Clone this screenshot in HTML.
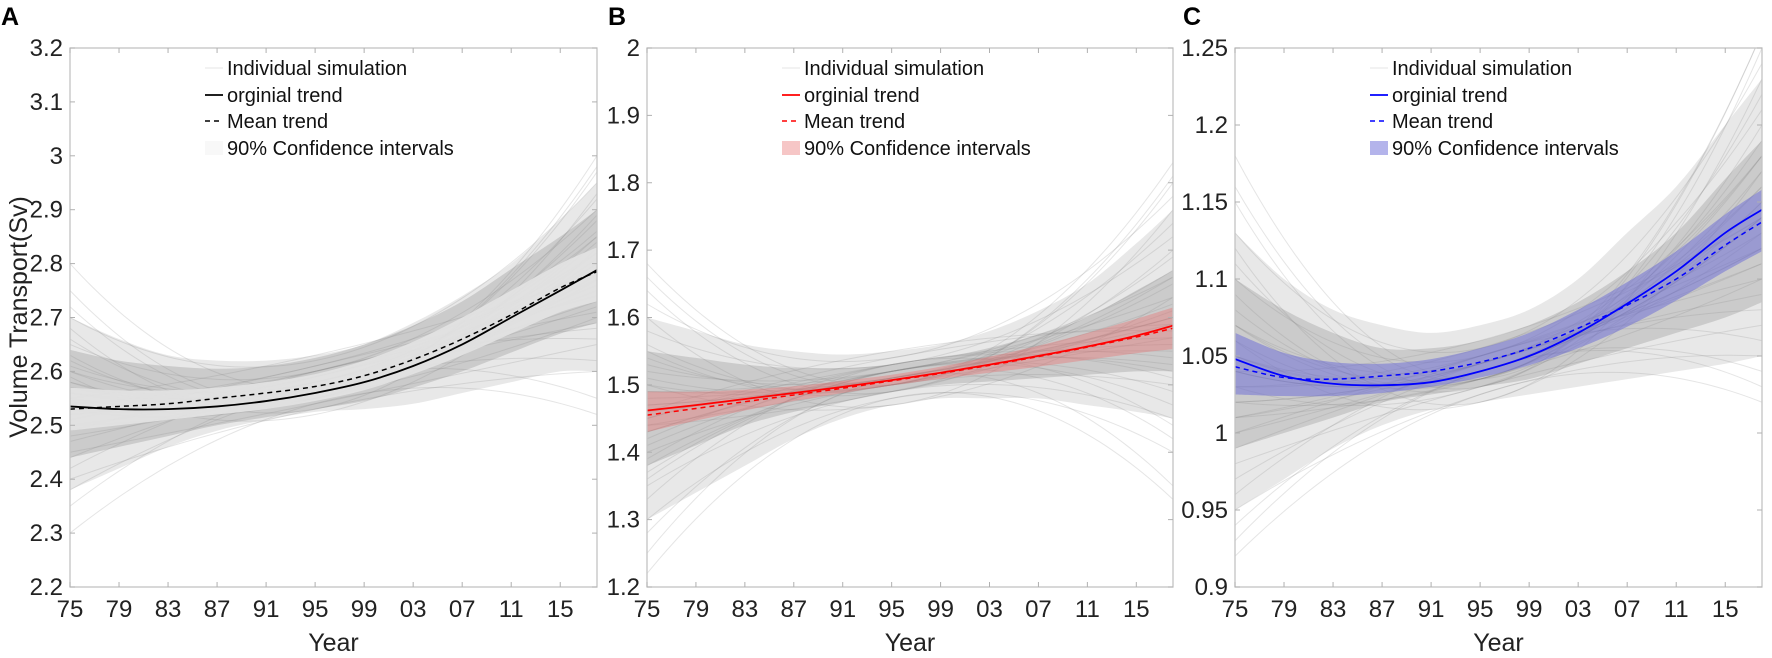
<!DOCTYPE html>
<html><head><meta charset="utf-8">
<style>
body{margin:0;background:#fff;}
svg{display:block;font-family:"Liberation Sans",Arial,sans-serif;}
</style></head>
<body>
<svg id="fig" width="1772" height="658" viewBox="0 0 1772 658" xmlns="http://www.w3.org/2000/svg"></svg>
<script>
// ---------- data ----------
const years=[1975,1979,1983,1987,1991,1995,1999,2003,2007,2011,2015,2018];
const xTickLabels=["75","79","83","87","91","95","99","03","07","11","15"];
const simYears=[1975,1995,2018];

const aTicks=[2.2,2.3,2.4,2.5,2.6,2.7,2.8,2.9,3,3.1,3.2];
const aOrig=[2.535,2.53,2.53,2.535,2.545,2.56,2.58,2.61,2.65,2.7,2.75,2.788];
const aMean=[2.53,2.535,2.54,2.55,2.56,2.572,2.592,2.622,2.66,2.705,2.755,2.785];
const aLow=[2.49,2.5,2.51,2.52,2.53,2.545,2.565,2.595,2.63,2.67,2.71,2.73];
const aHigh=[2.57,2.565,2.565,2.57,2.58,2.595,2.62,2.655,2.7,2.75,2.8,2.83];
const aOuterLow=[2.38,2.42,2.46,2.49,2.51,2.525,2.53,2.54,2.56,2.58,2.6,2.6];
const aOuterHigh=[2.7,2.66,2.63,2.62,2.62,2.63,2.65,2.69,2.74,2.8,2.88,2.95];
const aInnerLow=[2.44,2.46,2.48,2.5,2.515,2.53,2.545,2.57,2.6,2.635,2.67,2.69];
const aInnerHigh=[2.64,2.62,2.61,2.605,2.61,2.625,2.65,2.685,2.73,2.79,2.85,2.9];
const aSimStart=[2.55,2.6,2.5,2.65,2.45,2.58,2.52,2.7,2.4,2.56,2.62,2.48,2.54,2.75,2.35,2.59,2.51,2.57,2.66,2.44,2.53,2.61,2.49,2.8,2.3,2.55,2.58,2.47,2.63,2.52,2.56,2.68,2.42,2.6,2.5,2.54,2.72,2.38,2.57,2.53];
const aSimMid=[2.56,2.58,2.55,2.6,2.54,2.57,2.59,2.62,2.53,2.58,2.56,2.57,2.6,2.55,2.58,2.52,2.61,2.57,2.56,2.59,2.55,2.58,2.6,2.57,2.54,2.63,2.56,2.58,2.55,2.59,2.57,2.53,2.6,2.56,2.58,2.61,2.55,2.57,2.59,2.56];
const aSimEnd=[2.78,2.85,2.7,2.9,2.65,2.82,2.75,2.95,2.6,2.8,2.88,2.72,2.77,3.0,2.55,2.83,2.74,2.79,2.92,2.68,2.81,2.86,2.71,2.97,2.52,2.78,2.84,2.69,2.89,2.76,2.8,2.93,2.66,2.85,2.73,2.79,2.98,2.62,2.82,2.77];

const bTicks=[1.2,1.3,1.4,1.5,1.6,1.7,1.8,1.9,2];
const bOrig=[1.462,1.47,1.479,1.488,1.497,1.507,1.518,1.53,1.543,1.557,1.573,1.588];
const bMean=[1.455,1.465,1.475,1.485,1.495,1.506,1.517,1.529,1.542,1.556,1.571,1.584];
const bLow=[1.43,1.447,1.462,1.476,1.488,1.499,1.509,1.518,1.527,1.537,1.547,1.553];
const bHigh=[1.49,1.49,1.493,1.498,1.506,1.515,1.527,1.542,1.558,1.577,1.598,1.615];
const bOuterLow=[1.3,1.34,1.38,1.42,1.45,1.47,1.48,1.48,1.48,1.47,1.46,1.45];
const bOuterHigh=[1.6,1.58,1.56,1.55,1.545,1.55,1.56,1.58,1.61,1.65,1.71,1.76];
const bInnerLow=[1.38,1.41,1.44,1.46,1.475,1.49,1.5,1.505,1.51,1.515,1.52,1.52];
const bInnerHigh=[1.55,1.54,1.53,1.525,1.525,1.53,1.54,1.555,1.575,1.6,1.64,1.67];
const bSimStart=[1.46,1.52,1.4,1.58,1.35,1.49,1.43,1.62,1.3,1.47,1.54,1.38,1.45,1.66,1.25,1.5,1.42,1.48,1.56,1.36,1.44,1.53,1.39,1.68,1.22,1.46,1.5,1.37,1.55,1.43,1.47,1.6,1.33,1.51,1.41,1.45,1.64,1.28,1.49,1.44];
const bSimMid=[1.51,1.52,1.5,1.53,1.49,1.51,1.52,1.54,1.48,1.51,1.5,1.52,1.53,1.5,1.51,1.47,1.53,1.51,1.5,1.52,1.49,1.51,1.53,1.5,1.48,1.55,1.5,1.52,1.49,1.52,1.51,1.47,1.53,1.5,1.52,1.54,1.49,1.51,1.52,1.5];
const bSimEnd=[1.59,1.66,1.5,1.72,1.45,1.62,1.55,1.78,1.4,1.6,1.69,1.52,1.57,1.83,1.35,1.63,1.54,1.6,1.74,1.47,1.61,1.67,1.51,1.8,1.33,1.58,1.65,1.49,1.7,1.56,1.6,1.76,1.44,1.66,1.53,1.59,1.81,1.42,1.63,1.57];

const cTicks=[0.9,0.95,1,1.05,1.1,1.15,1.2,1.25];
const cOrig=[1.048,1.037,1.032,1.031,1.033,1.04,1.05,1.065,1.084,1.105,1.13,1.145];
const cMean=[1.043,1.036,1.035,1.037,1.04,1.046,1.055,1.068,1.083,1.1,1.122,1.137];
const cLow=[1.025,1.024,1.024,1.026,1.03,1.036,1.044,1.055,1.069,1.086,1.105,1.118];
const cHigh=[1.065,1.052,1.046,1.045,1.048,1.055,1.065,1.08,1.098,1.118,1.142,1.158];
const cOuterLow=[0.95,0.97,0.99,1.005,1.015,1.02,1.025,1.03,1.035,1.04,1.045,1.05];
const cOuterHigh=[1.13,1.1,1.08,1.07,1.065,1.07,1.08,1.1,1.13,1.16,1.2,1.23];
const cInnerLow=[0.99,1.0,1.01,1.02,1.025,1.03,1.035,1.045,1.055,1.065,1.075,1.085];
const cInnerHigh=[1.1,1.08,1.065,1.055,1.055,1.06,1.07,1.085,1.105,1.13,1.165,1.19];
const cSimStart=[1.04,1.07,1.01,1.1,0.98,1.05,1.02,1.13,0.95,1.04,1.08,1.0,1.03,1.16,0.93,1.06,1.01,1.05,1.11,0.97,1.03,1.07,1.0,1.18,0.92,1.04,1.06,0.99,1.09,1.02,1.04,1.12,0.96,1.07,1.01,1.03,1.15,0.94,1.05,1.02];
const cSimMid=[1.04,1.045,1.035,1.05,1.03,1.04,1.045,1.055,1.025,1.04,1.035,1.045,1.05,1.035,1.04,1.02,1.05,1.04,1.035,1.045,1.03,1.04,1.05,1.035,1.025,1.06,1.035,1.045,1.03,1.045,1.04,1.02,1.05,1.035,1.045,1.055,1.03,1.04,1.045,1.035];
const cSimEnd=[1.14,1.18,1.1,1.21,1.07,1.16,1.12,1.24,1.05,1.14,1.19,1.11,1.13,1.26,1.03,1.17,1.12,1.15,1.22,1.08,1.15,1.18,1.1,1.25,1.02,1.14,1.17,1.09,1.2,1.12,1.14,1.23,1.06,1.18,1.11,1.14,1.26,1.04,1.16,1.13];

// ---------- drawing ----------
const NS="http://www.w3.org/2000/svg";
const svg=document.getElementById('fig');
function mk(tag,attrs,parent){const e=document.createElementNS(NS,tag);for(const k in attrs)e.setAttribute(k,attrs[k]);(parent||svg).appendChild(e);return e;}
function smoothPath(pts){
  let d="M"+pts[0][0].toFixed(2)+","+pts[0][1].toFixed(2);
  for(let i=0;i<pts.length-1;i++){
    const p0=pts[i-1]||pts[i],p1=pts[i],p2=pts[i+1],p3=pts[i+2]||p2;
    const c1=[p1[0]+(p2[0]-p0[0])/6,p1[1]+(p2[1]-p0[1])/6];
    const c2=[p2[0]-(p3[0]-p1[0])/6,p2[1]-(p3[1]-p1[1])/6];
    d+=" C"+c1[0].toFixed(2)+","+c1[1].toFixed(2)+" "+c2[0].toFixed(2)+","+c2[1].toFixed(2)+" "+p2[0].toFixed(2)+","+p2[1].toFixed(2);
  }
  return d;
}
function bandPath(X,Y,low,high){
  const up=years.map((yr,i)=>[X(yr),Y(high[i])]);
  const lo=years.map((yr,i)=>[X(yr),Y(low[i])]).reverse();
  return smoothPath(up)+" L"+lo[0][0].toFixed(2)+","+lo[0][1].toFixed(2)+smoothPath(lo).replace(/^M[^ ]+/,"")+" Z";
}
const TOP=48,BOT=587;

function panel(id,left,right,ticks,tickFmt,orig,mean,low,high,oL,oH,iL,iH,sS,sM,sE,color,bandColor,bandOpacity,letter,letterX,showYTitle){
  const g=mk('g',{});
  
  
  const ymin=ticks[0],ymax=ticks[ticks.length-1];
  const X=y=>left+(y-1975)/(2018-1975)*(right-left);
  const Y=v=>BOT-(v-ymin)/(ymax-ymin)*(BOT-TOP);
  const clipId='clip'+id;
  const cp=mk('clipPath',{id:clipId},g);mk('rect',{x:left,y:TOP,width:right-left,height:BOT-TOP},cp);
  const plot=mk('g',{'clip-path':'url(#'+clipId+')'},g);
  const co=mk('path',{d:bandPath(X,Y,oL,oH),fill:'#d2d2d2','fill-opacity':0.5},plot);
  
  
  const ci=mk('path',{d:bandPath(X,Y,iL,iH),fill:'#a0a0a0','fill-opacity':0.4},plot);
  
  
  const sims=mk('g',{},plot);
  
  
  const t0=simYears[0],t1=simYears[1],t2=simYears[2];
  for(let i=0;i<sS.length;i++){
    const a=sS[i],b=sM[i],c=sE[i];
    const pts=[];
    for(let yr=1975;yr<=2018.01;yr+=1){
      const L0=(yr-t1)*(yr-t2)/((t0-t1)*(t0-t2)),L1=(yr-t0)*(yr-t2)/((t1-t0)*(t1-t2)),L2=(yr-t0)*(yr-t1)/((t2-t0)*(t2-t1));
      pts.push([X(yr),Y(a*L0+b*L1+c*L2)]);
    }
    const p=mk('path',{d:smoothPath(pts),fill:'none',stroke:'#8a8a8a','stroke-width':1,'stroke-opacity':0.22},sims);
    
    
  }
  const band=mk('path',{d:bandPath(X,Y,low,high),fill:bandColor,'fill-opacity':bandOpacity,stroke:'none'},plot);
  
  
  const ol=mk('path',{d:smoothPath(years.map((yr,i)=>[X(yr),Y(orig[i])])),fill:'none',stroke:color,'stroke-width':1.8},plot);
  
  
  const ml=mk('path',{d:smoothPath(years.map((yr,i)=>[X(yr),Y(mean[i])])),fill:'none',stroke:color,'stroke-width':1.5,'stroke-dasharray':'5,4'},plot);
  
  
  const box=mk('rect',{x:left,y:TOP,width:right-left,height:BOT-TOP,fill:'none',stroke:'#c4c4c4','stroke-width':1.3},g);
  
  
  xTickLabels.forEach((lab,i)=>{
    const x=X(1975+4*i);
    mk('line',{x1:x,x2:x,y1:BOT,y2:BOT-5,stroke:'#b0b0b0'},g);
    mk('line',{x1:x,x2:x,y1:TOP,y2:TOP+5,stroke:'#b0b0b0'},g);
    const t=mk('text',{x:x,y:617,'text-anchor':'middle','font-size':24,fill:'#222'},g);
    t.textContent=lab;
    
    
  });
  ticks.forEach(v=>{
    const y=Y(v);
    mk('line',{x1:left,x2:left+5,y1:y,y2:y,stroke:'#b0b0b0'},g);
    mk('line',{x1:right,x2:right-5,y1:y,y2:y,stroke:'#b0b0b0'},g);
    const t=mk('text',{x:left-7,y:y+8,'text-anchor':'end','font-size':24,fill:'#222'},g);
    t.textContent=tickFmt(v);
    
    
  });
  const xt=mk('text',{x:(left+right)/2,y:651,'text-anchor':'middle','font-size':25,fill:'#222'},g);
  xt.textContent='Year';
  
  
  const lt=mk('text',{x:letterX,y:25,'font-size':25,'font-weight':'bold',fill:'#000'},g);
  lt.textContent=letter;
  
  
  if(showYTitle){
    const yt=mk('text',{x:0,y:0,'text-anchor':'middle','font-size':25,fill:'#222',transform:'translate(27,317) rotate(-90)'},g);
    yt.textContent='Volume Transport(Sv)';
    
    
  }
  const lg=mk('g',{},g);
  
  
  const lx=left+135,tx=left+157;
  const rows=['Individual simulation','orginial trend','Mean trend','90% Confidence intervals'];
  const ry=[68,95,121,148];
  mk('line',{x1:lx,x2:lx+18,y1:ry[0],y2:ry[0],stroke:'#eee','stroke-width':1.5},lg);
  mk('line',{x1:lx,x2:lx+18,y1:ry[1],y2:ry[1],stroke:color,'stroke-width':1.8},lg);
  mk('line',{x1:lx,x2:lx+18,y1:ry[2],y2:ry[2],stroke:color,'stroke-width':1.5,'stroke-dasharray':'5,4'},lg);
  mk('rect',{x:lx,y:ry[3]-7,width:18,height:14,fill:bandColor,'fill-opacity':id==='a'?0.25:bandOpacity},lg);
  rows.forEach((r,i)=>{
    const t=mk('text',{x:tx,y:ry[i]+7,'font-size':20,fill:'#111'},lg);
    t.textContent=r;
    
    
  });
}
const f1=v=>String(+v.toFixed(1));
const f2=v=>String(+v.toFixed(2));
panel('a',70,597,aTicks,f1,aOrig,aMean,aLow,aHigh,aOuterLow,aOuterHigh,aInnerLow,aInnerHigh,aSimStart,aSimMid,aSimEnd,'#000','#e2e2e2',0.95,'A',1,true);
panel('b',647,1173,bTicks,f1,bOrig,bMean,bLow,bHigh,bOuterLow,bOuterHigh,bInnerLow,bInnerHigh,bSimStart,bSimMid,bSimEnd,'#ff0000','#e87070',0.4,'B',608,false);
panel('c',1235,1762,cTicks,f2,cOrig,cMean,cLow,cHigh,cOuterLow,cOuterHigh,cInnerLow,cInnerHigh,cSimStart,cSimMid,cSimEnd,'#0000ff','#6a6ad8',0.5,'C',1183,false);
</script>
</body></html>
